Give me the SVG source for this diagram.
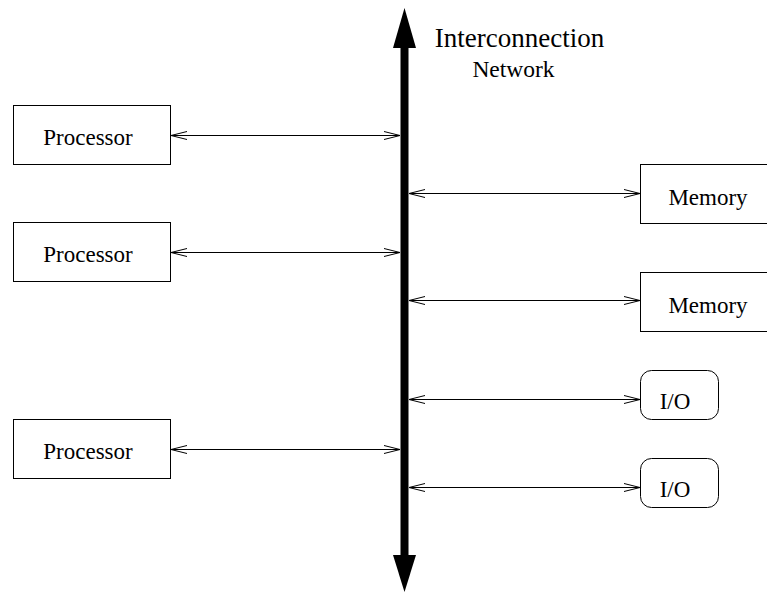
<svg xmlns="http://www.w3.org/2000/svg" width="767" height="595" viewBox="0 0 767 595">
  <style>
    .box { fill: #ffffff; stroke: #000000; stroke-width: 1; }
    .lbl { font-family: "Liberation Serif", "Times New Roman", serif; font-size: 23px; fill: #000000; text-anchor: middle; }
    .link { stroke: #000000; stroke-width: 1; fill: none; marker-start: url(#openHead); marker-end: url(#openHead); }
  </style>
  <defs>
    <marker id="openHead" viewBox="0 0 16 10" refX="16" refY="5" markerWidth="16" markerHeight="10" markerUnits="userSpaceOnUse" orient="auto-start-reverse">
      <path d="M0,1 L16,5 L0,9" fill="none" stroke="#000000" stroke-width="1"/>
    </marker>
  </defs>

  <!-- vertical bus with solid heads at both ends -->
  <g id="bus">
    <rect x="400.5" y="40" width="8" height="520" fill="#000000"/>
    <polygon points="404.5,8 393,48 416,48" fill="#000000"/>
    <polygon points="404.5,592 393,555 416,555" fill="#000000"/>
    <text x="519.5" y="47" class="lbl" style="font-size:27px">Interconnection</text>
    <text x="513.5" y="77" class="lbl" style="font-size:23.5px">Network</text>
  </g>

  <g id="proc1">
    <rect x="13.5" y="105.5" width="157" height="59" class="box"/>
    <text x="88" y="145" class="lbl">Processor</text>
  </g>
  <g id="proc2">
    <rect x="13.5" y="222.5" width="157" height="59" class="box"/>
    <text x="88" y="262" class="lbl">Processor</text>
  </g>
  <g id="proc3">
    <rect x="13.5" y="419.5" width="157" height="59" class="box"/>
    <text x="88" y="459" class="lbl">Processor</text>
  </g>

  <g id="mem1">
    <rect x="640.5" y="164.5" width="140" height="59" class="box"/>
    <text x="708" y="205" class="lbl">Memory</text>
  </g>
  <g id="mem2">
    <rect x="640.5" y="272.5" width="140" height="59" class="box"/>
    <text x="708" y="313" class="lbl">Memory</text>
  </g>

  <g id="io1">
    <rect x="640.5" y="370.5" width="78" height="49" rx="11" class="box"/>
    <text x="675" y="409" class="lbl">I/O</text>
  </g>
  <g id="io2">
    <rect x="640.5" y="458.5" width="78" height="49" rx="11" class="box"/>
    <text x="675" y="497" class="lbl">I/O</text>
  </g>

  <g id="connectors">
    <line x1="171" y1="135.5" x2="400" y2="135.5" class="link"/>
    <line x1="171" y1="252.5" x2="400" y2="252.5" class="link"/>
    <line x1="171" y1="449.5" x2="400" y2="449.5" class="link"/>
    <line x1="409" y1="193.5" x2="640" y2="193.5" class="link"/>
    <line x1="409" y1="300.5" x2="640" y2="300.5" class="link"/>
    <line x1="409" y1="399.5" x2="640" y2="399.5" class="link"/>
    <line x1="409" y1="487.5" x2="640" y2="487.5" class="link"/>
  </g>
</svg>
